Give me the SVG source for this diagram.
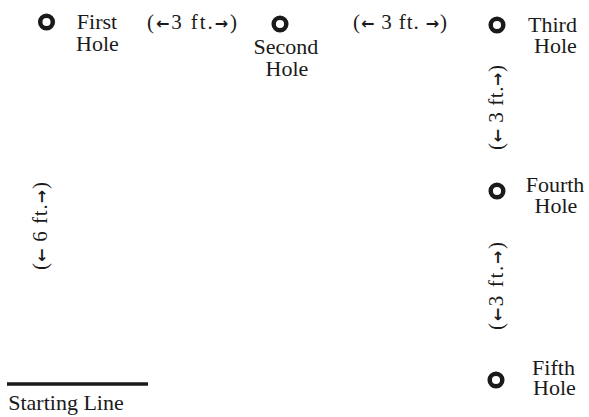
<svg xmlns="http://www.w3.org/2000/svg" width="589" height="417" viewBox="0 0 589 417">
<style>
.t{font-family:'Liberation Serif','Times New Roman',serif;font-size:22px;fill:#1a1a1a}
.m{text-anchor:middle}
.dim{font-size:21px;text-anchor:middle}
.ar{font-family:'DejaVu Sans','Liberation Sans',sans-serif;font-weight:bold;font-size:16px}
.hole{fill:none;stroke:#1a1a1a;stroke-width:4.5}
</style>
<rect width="589" height="417" fill="#ffffff"/>
<g class="t">
<g id="first-hole">
<circle class="hole" cx="46.5" cy="22" r="6.3"/>
<text class="m" x="97" y="29">First</text>
<text class="m" x="97.5" y="51">Hole</text>
</g>
<g id="second-hole">
<circle class="hole" cx="280" cy="24" r="6.3"/>
<text class="m" x="286" y="54">Second</text>
<text class="m" x="287" y="76">Hole</text>
</g>
<g id="third-hole">
<circle class="hole" cx="497" cy="25" r="6.3"/>
<text class="m" x="552.5" y="32">Third</text>
<text class="m" x="555.5" y="53">Hole</text>
</g>
<g id="fourth-hole">
<circle class="hole" cx="497" cy="191" r="6.3"/>
<text class="m" x="555" y="192">Fourth</text>
<text class="m" x="556" y="213">Hole</text>
</g>
<g id="fifth-hole">
<circle class="hole" cx="496" cy="380" r="6.3"/>
<text class="m" x="553.5" y="375">Fifth</text>
<text class="m" x="554.5" y="395">Hole</text>
</g>
<g id="starting-line">
<line x1="7" y1="384" x2="148" y2="384" stroke="#1a1a1a" stroke-width="3.5"/>
<text class="m" x="66" y="410">Starting Line</text>
</g>
<g id="connectors">
<text class="dim" x="192" y="29" textLength="90" lengthAdjust="spacing">(<tspan class="ar">←</tspan>3 ft.<tspan class="ar">→</tspan>)</text>
<text class="dim" x="400" y="29" textLength="94" lengthAdjust="spacing">(<tspan class="ar">←</tspan> 3 ft. <tspan class="ar">→</tspan>)</text>
<text class="dim" transform="translate(503 107.5) rotate(-90)" textLength="85" lengthAdjust="spacing">(<tspan class="ar">←</tspan> 3 ft.<tspan class="ar">→</tspan>)</text>
<text class="dim" transform="translate(503 286) rotate(-90)" textLength="88" lengthAdjust="spacing">(<tspan class="ar">←</tspan>3 ft.<tspan class="ar">→</tspan>)</text>
<text class="dim" transform="translate(47 226) rotate(-90)" textLength="88" lengthAdjust="spacing">(<tspan class="ar">←</tspan> 6 ft.<tspan class="ar">→</tspan>)</text>
</g>
</g>
</svg>
